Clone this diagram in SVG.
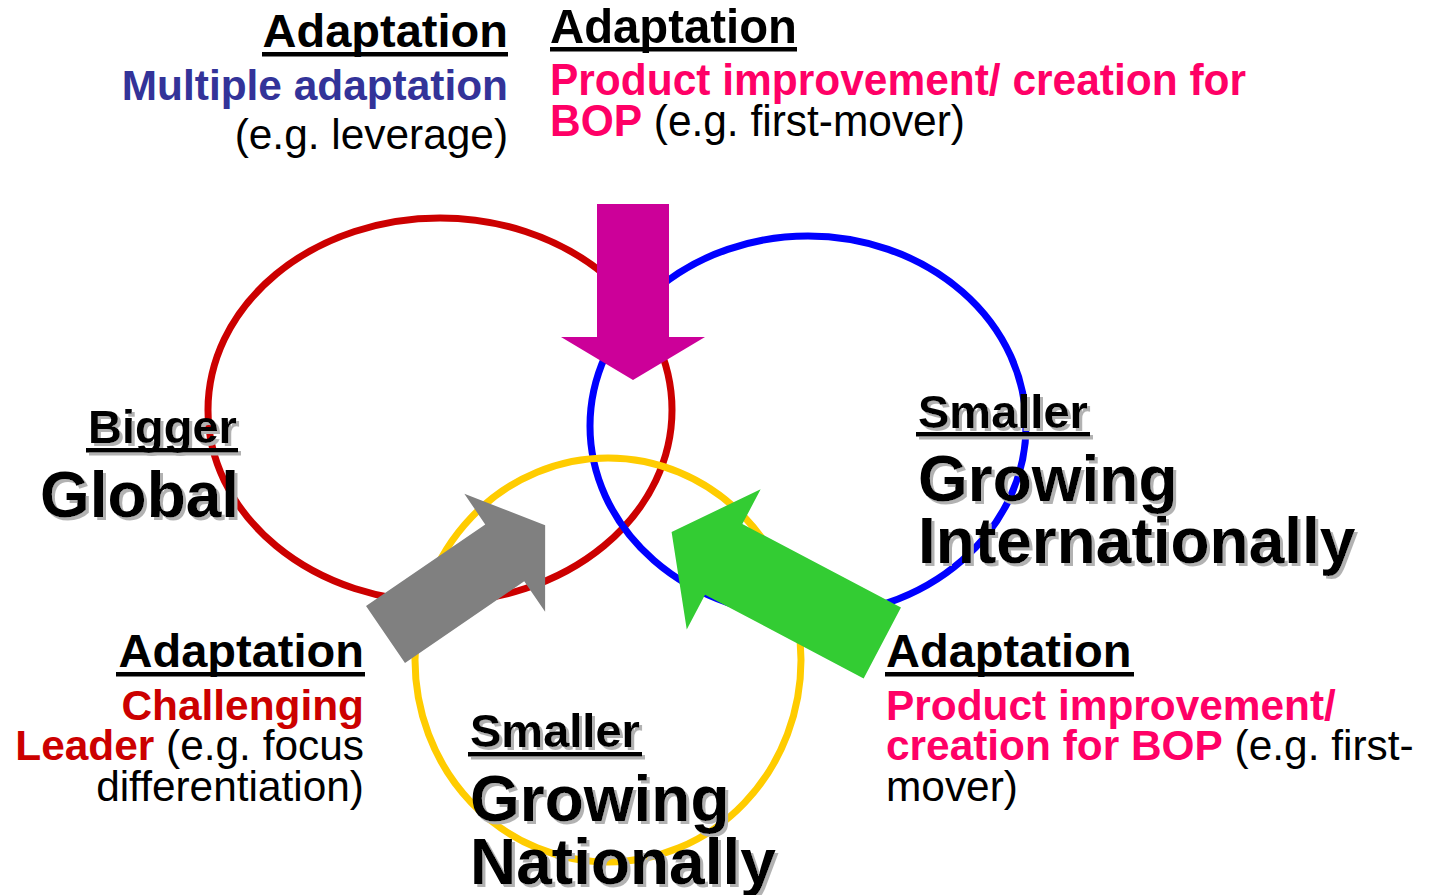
<svg xmlns="http://www.w3.org/2000/svg" width="1433" height="895" viewBox="0 0 1433 895">
  <defs>
    <style>
      text { font-family: "Liberation Sans", Arial, sans-serif; }
      .b { font-weight: bold; }
      .head { font-size: 47px; font-weight: bold; fill: #000; }
      .body { font-size: 42.4px; fill: #000; }
      .big { font-size: 64px; font-weight: bold; fill: #000; }
      .pink { fill: #FF0066; font-weight: bold; }
      .navy { fill: #333399; font-weight: bold; }
      .red { fill: #CC0000; font-weight: bold; }
      .ring { fill: none; stroke-width: 7; }
    </style>
    <filter id="shadow" x="-5%" y="-5%" width="115%" height="120%">
      <feDropShadow dx="3" dy="3" stdDeviation="0.4" flood-color="#B2B2B2" flood-opacity="1"/>
    </filter>
  </defs>

  <rect width="1433" height="895" fill="#FFFFFF"/>

  <!-- market rings -->
  <g id="ring-global">
    <ellipse class="ring" cx="440" cy="410" rx="232" ry="192" stroke="#CC0000"/>
  </g>
  <g id="ring-international">
    <ellipse class="ring" cx="808" cy="426" rx="218" ry="190" stroke="#0000FF"/>
  </g>
  <g id="ring-national">
    <ellipse class="ring" cx="608" cy="660" rx="193" ry="202" stroke="#FFCC00"/>
  </g>

  <!-- block arrows -->
  <g id="connectors">
    <polygon id="arrow-top" fill="#CC0099" points="597,204 669,204 669,337 705,337 633,380 561,337 597,337"/>
    <polygon id="arrow-left" fill="#808080" transform="translate(385.5,634.5) rotate(-34.4)"
             points="0,-34.5 144.5,-34.5 144.5,-71.5 193.5,0 144.5,71.5 144.5,34.5 0,34.5"/>
    <polygon id="arrow-right" fill="#33CC33" transform="translate(882.3,643) rotate(-152.2)"
             points="0,-40 179.3,-40 179.3,-79.2 238.2,0 179.3,79.2 179.3,40 0,40"/>
  </g>

  <!-- ring labels -->
  <g id="label-global" filter="url(#shadow)">
    <text class="head" x="88" y="443">Bigger</text>
    <rect x="86" y="448" width="152" height="4.5" fill="#000"/>
    <text class="big" x="40" y="517">Global</text>
  </g>
  <g id="label-international" filter="url(#shadow)">
    <text class="head" x="918" y="428">Smaller</text>
    <rect x="916" y="432" width="174" height="4.5" fill="#000"/>
    <text class="big" x="918" y="501">Growing</text>
    <text class="big" x="918" y="563">Internationally</text>
  </g>
  <g id="label-national" filter="url(#shadow)">
    <text class="head" x="470" y="747">Smaller</text>
    <rect x="468" y="752" width="174" height="4.5" fill="#000"/>
    <text class="big" x="470" y="821">Growing</text>
    <text class="big" x="470" y="884">Nationally</text>
  </g>

  <!-- strategy notes -->
  <g id="note-top-left">
    <text class="head" x="508" y="47" text-anchor="end">Adaptation</text>
    <rect x="262" y="52" width="246" height="4.5" fill="#000"/>
    <text class="body navy" x="508" y="100" text-anchor="end">Multiple adaptation</text>
    <text class="body" x="508" y="149" text-anchor="end">(e.g. leverage)</text>
  </g>
  <g id="note-top-right">
    <text class="b" x="550" y="43" font-size="49" textLength="247" lengthAdjust="spacingAndGlyphs">Adaptation</text>
    <rect x="550" y="47" width="247" height="4.5" fill="#000"/>
    <text class="pink" x="550" y="95" font-size="45" textLength="696" lengthAdjust="spacingAndGlyphs">Product improvement/ creation for</text>
    <text x="550" y="136" font-size="45" textLength="415" lengthAdjust="spacingAndGlyphs"><tspan class="pink">BOP</tspan> (e.g. first-mover)</text>
  </g>
  <g id="note-bottom-left">
    <text class="head" x="364" y="667" text-anchor="end">Adaptation</text>
    <rect x="116" y="672" width="249" height="4.5" fill="#000"/>
    <text class="body red" x="364" y="720" text-anchor="end">Challenging</text>
    <text class="body" x="364" y="760" text-anchor="end"><tspan class="red">Leader</tspan> (e.g. focus</text>
    <text class="body" x="364" y="801" text-anchor="end">differentiation)</text>
  </g>
  <g id="note-bottom-right">
    <text class="head" x="886" y="667">Adaptation</text>
    <rect x="885" y="672" width="249" height="4.5" fill="#000"/>
    <text class="body pink" x="886" y="720">Product improvement/</text>
    <text class="body" x="886" y="760"><tspan class="pink">creation for BOP</tspan> (e.g. first-</text>
    <text class="body" x="886" y="801">mover)</text>
  </g>
</svg>
